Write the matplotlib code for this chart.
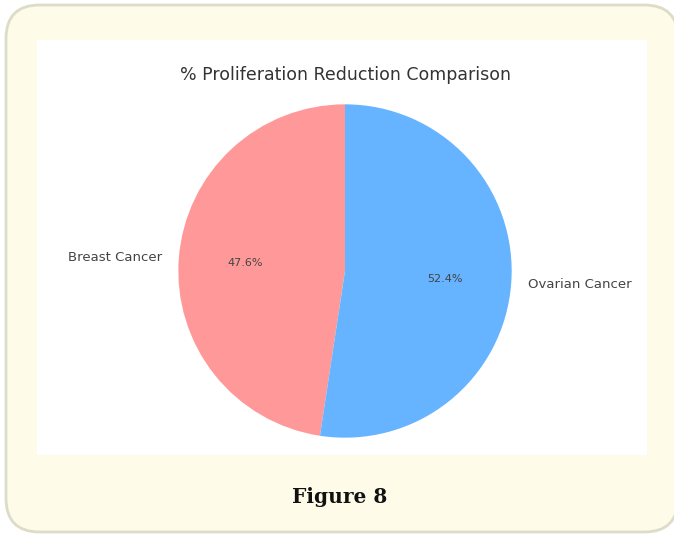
import numpy as np
import matplotlib
matplotlib.use('Agg')
import matplotlib.pyplot as plt
from matplotlib.patches import FancyBboxPatch

# data
labels = ['Breast Cancer', 'Ovarian Cancer']
shares = [47.6, 52.4]
colors = ['#ff9999', '#66b3ff']
title = '% Proliferation Reduction Comparison'
caption = 'Figure 8'

W, H = 674, 538
fig = plt.figure(figsize=(W / 100, H / 100), dpi=100)
fig.patch.set_facecolor('white')

# cream card with rounded border (kept behind the axes)
card = FancyBboxPatch((6 / W, 6 / H), 672 / W, 527 / H,
                      boxstyle='round,pad=0,rounding_size=0.05',
                      transform=fig.transFigure, facecolor='#fefbe9',
                      edgecolor='#dcdcc8', linewidth=2, mutation_aspect=W / H,
                      clip_on=False, zorder=-5)
fig.patches.append(card)

# white plot area
bg = fig.add_axes([37 / W, (H - 455) / H, 610 / W, 415 / H])
bg.set_facecolor('white')
bg.set_xticks([])
bg.set_yticks([])
for s in bg.spines.values():
    s.set_visible(False)

# pie axes, 1 unit = ~167 px
cx, cy, half = 345, 271, 200
ax = fig.add_axes([(cx - half) / W, (H - cy - half) / H, 2 * half / W, 2 * half / H])
wedges, texts, autotexts = ax.pie(shares, labels=labels, colors=colors, startangle=90,
                                  autopct='%1.1f%%', labeldistance=1.1, pctdistance=0.6,
                                  textprops={'color': '#444444'})
for t in texts:
    t.set_fontsize(9.5)
for t in autotexts:
    t.set_fontsize(8)
ax.set_xlim(-1.2, 1.2)
ax.set_ylim(-1.2, 1.2)
ax.set_aspect('equal')
ax.axis('off')

fig.text(345 / W, 1 - 75 / H, title, ha='center', va='center', fontsize=12.5, color='#333333')
fig.text(340 / W, 1 - 497 / H, caption, ha='center', va='center', fontsize=14.5,
         fontweight='bold', family='DejaVu Serif', color='#111111')

fig.savefig('out.png', dpi=100)
